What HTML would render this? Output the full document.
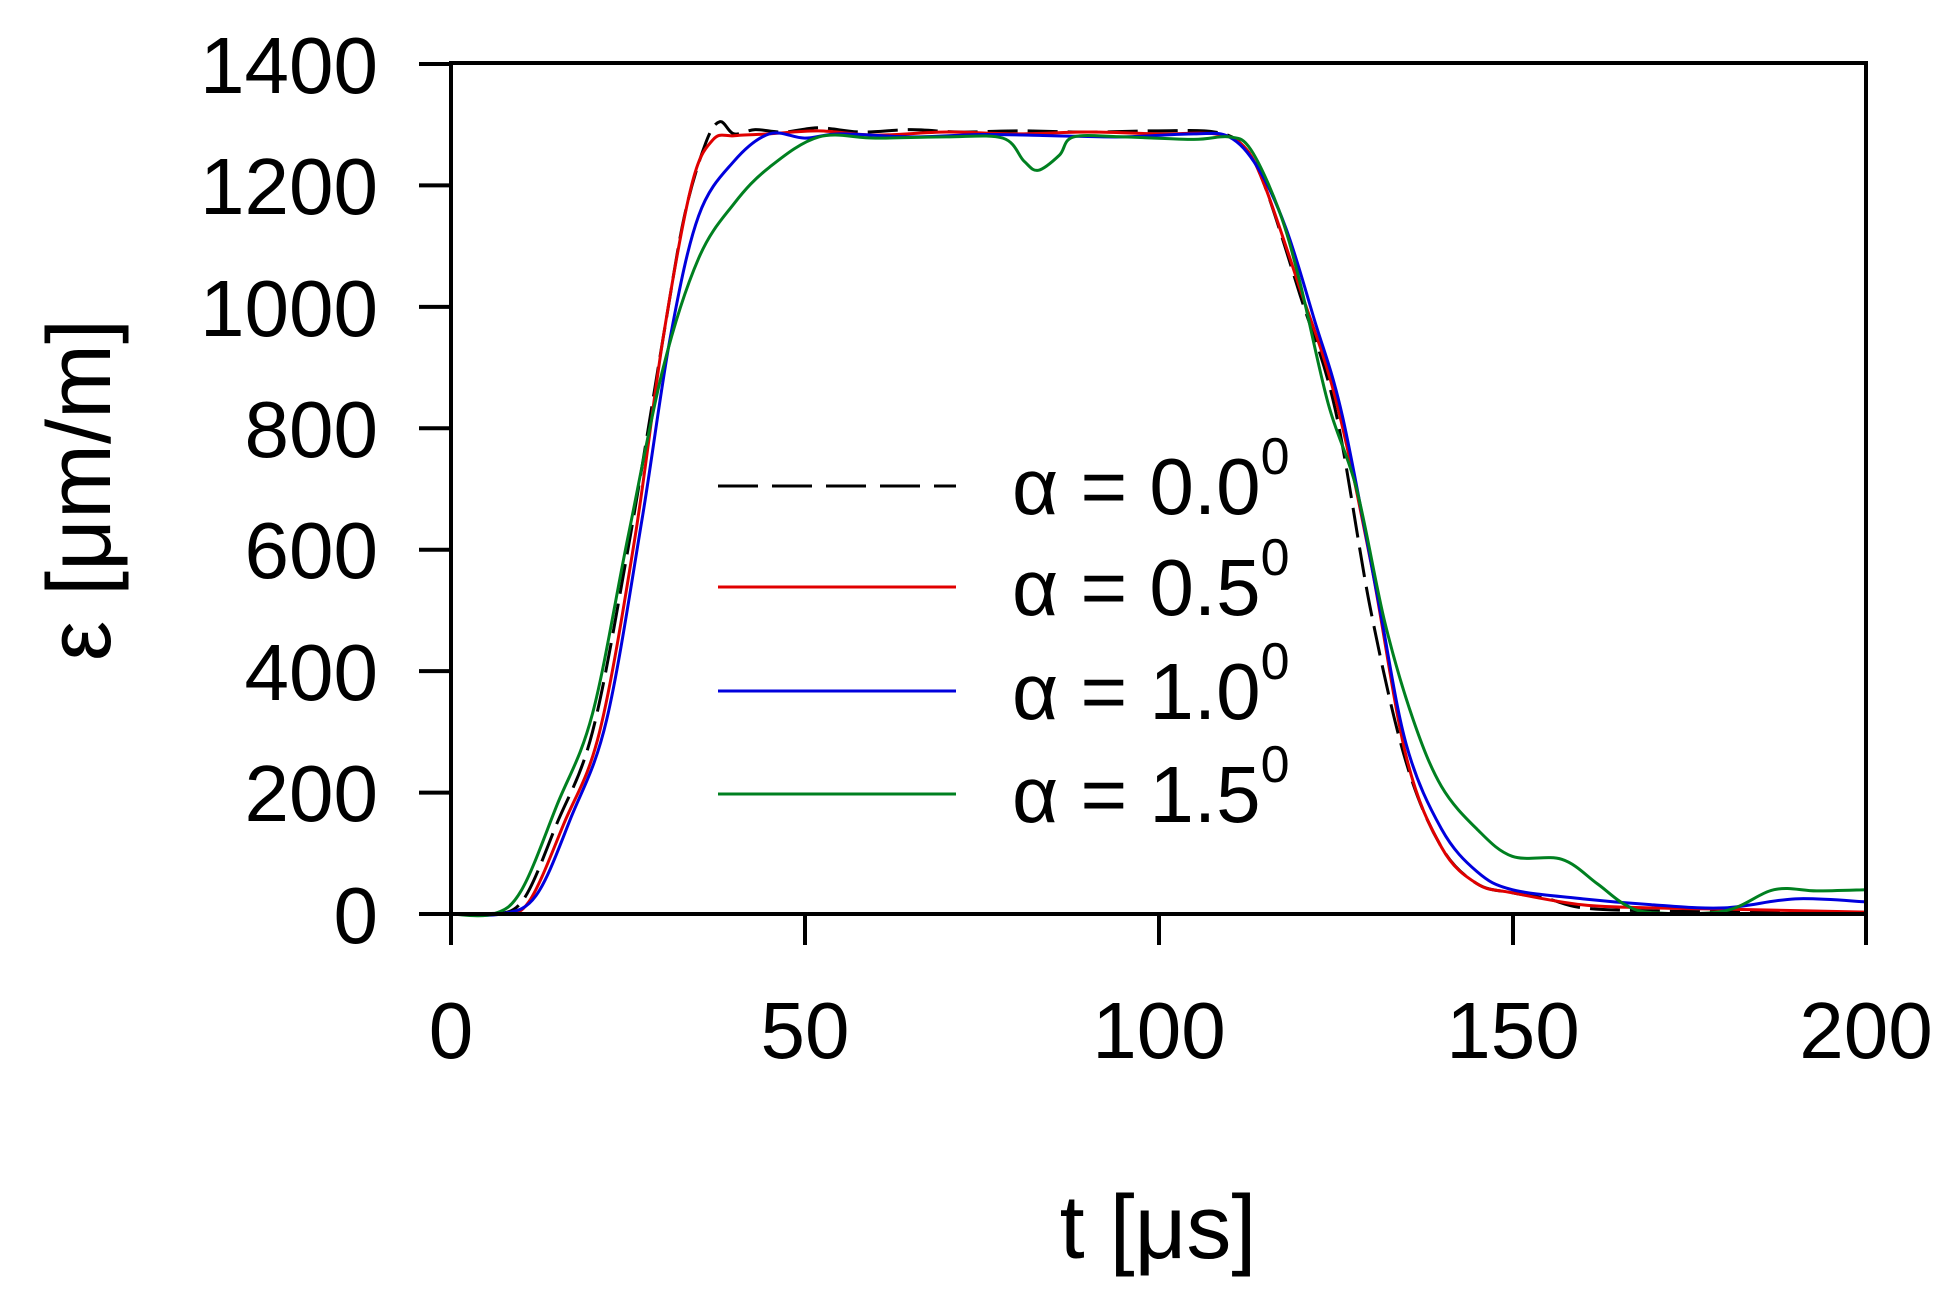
<!DOCTYPE html>
<html><head><meta charset="utf-8"><style>
html,body{margin:0;padding:0;background:#fff;}
svg{display:block;}
text{font-family:"Liberation Sans",Arial,sans-serif;fill:#000;}
</style></head><body>
<svg id="s" width="1957" height="1299" viewBox="0 0 1957 1299" xmlns="http://www.w3.org/2000/svg">
<rect width="1957" height="1299" fill="#fff"/>
<g id="curves" fill="none" stroke-width="3" stroke-linejoin="round"></g>
<g stroke="#000" stroke-width="4" fill="none">
<rect x="451" y="63" width="1415" height="851"/>
<line x1="419" y1="914" x2="451" y2="914"/><line x1="419" y1="792.6" x2="451" y2="792.6"/>
<line x1="419" y1="671.1" x2="451" y2="671.1"/><line x1="419" y1="549.7" x2="451" y2="549.7"/>
<line x1="419" y1="428.3" x2="451" y2="428.3"/><line x1="419" y1="306.9" x2="451" y2="306.9"/>
<line x1="419" y1="185.4" x2="451" y2="185.4"/><line x1="419" y1="64" x2="451" y2="64"/>
<line x1="451" y1="914" x2="451" y2="945"/><line x1="805" y1="914" x2="805" y2="945"/>
<line x1="1159" y1="914" x2="1159" y2="945"/><line x1="1513" y1="914" x2="1513" y2="945"/>
<line x1="1866" y1="914" x2="1866" y2="945"/>
</g>
<g font-size="80" text-anchor="end">
<text x="378" y="943">0</text><text x="378" y="821">200</text><text x="378" y="700">400</text>
<text x="378" y="578">600</text><text x="378" y="457">800</text><text x="378" y="336">1000</text>
<text x="378" y="214">1200</text><text x="378" y="93">1400</text>
</g>
<g font-size="80" text-anchor="middle">
<text x="451" y="1058">0</text><text x="805" y="1058">50</text><text x="1159" y="1058">100</text>
<text x="1513" y="1058">150</text><text x="1866" y="1058">200</text>
</g>
<text x="1158" y="1258" font-size="90" text-anchor="middle">t [μs]</text>
<text transform="translate(110,490) rotate(-90)" font-size="90" text-anchor="middle">ε [μm/m]</text>
<g stroke-width="3">
<line x1="718" y1="486" x2="956" y2="486" stroke="#000" stroke-dasharray="40,14"/>
<line x1="718" y1="587" x2="956" y2="587" stroke="#e00000"/>
<line x1="718" y1="691" x2="956" y2="691" stroke="#0000dd"/>
<line x1="718" y1="794" x2="956" y2="794" stroke="#008020"/>
</g>
<g font-size="80">
<text x="1012" y="514">α = 0.0<tspan font-size="52" dy="-40">0</tspan></text>
<text x="1012" y="615">α = 0.5<tspan font-size="52" dy="-40">0</tspan></text>
<text x="1012" y="719">α = 1.0<tspan font-size="52" dy="-40">0</tspan></text>
<text x="1012" y="822">α = 1.5<tspan font-size="52" dy="-40">0</tspan></text>
</g>
</svg>
<script>
var X=function(t){return 451+t*7.075},Y=function(v){return 914-v*0.6071};
function path(d){var p=d.map(function(a){return [X(a[0]),Y(a[1])]});var s="M"+p[0][0]+","+p[0][1];
for(var i=0;i<p.length-1;i++){var p0=p[i-1]||p[i],p1=p[i],p2=p[i+1],p3=p[i+2]||p2;
s+=" C"+(p1[0]+(p2[0]-p0[0])/6)+","+(p1[1]+(p2[1]-p0[1])/6)+" "+(p2[0]-(p3[0]-p1[0])/6)+","+(p2[1]-(p3[1]-p1[1])/6)+" "+p2[0]+","+p2[1];}return s;}
var S={
"#000":[[0,0],[5,0],[10,20],[15,150],[20,300],[25,600],[30,950],[33,1150],[36,1270],[38,1305],[40,1285],[43,1292],[47,1288],[52,1295],[58,1288],[65,1292],[72,1288],[80,1290],[90,1288],[100,1290],[108,1288],[112,1265],[115,1200],[120,1020],[125,830],[130,500],[135,250],[140,110],[145,50],[150,35],[155,25],[160,10],[170,5],[185,3],[200,0]],
"#e00000":[[0,0],[7,0],[11,20],[16,150],[21,300],[26,620],[30,950],[34,1200],[37,1275],[40,1282],[45,1285],[52,1290],[60,1283],[70,1288],[80,1285],[90,1288],[100,1285],[108,1285],[112,1265],[115,1200],[120,1030],[125,850],[130,580],[135,260],[140,110],[145,50],[150,35],[160,15],[170,10],[180,8],[200,3]],
"#0000dd":[[0,0],[7,0],[12,30],[17,160],[22,320],[27,650],[31,950],[35,1150],[40,1240],[45,1285],[50,1278],[55,1285],[65,1280],[75,1284],[85,1282],[95,1280],[105,1285],[110,1280],[114,1230],[118,1130],[122,980],[126,820],[131,520],[135,280],[140,140],[145,70],[150,40],[160,25],[170,15],[180,10],[190,25],[200,20]],
"#008020":[[0,0],[6,0],[10,40],[15,180],[20,330],[25,620],[30,900],[35,1080],[40,1170],[45,1230],[52,1280],[60,1278],[70,1280],[78,1278],[81,1240],[83,1225],[86,1250],[88,1280],[95,1280],[105,1276],[110,1280],[113,1260],[117,1160],[120,1040],[124,840],[128,700],[132,480],[136,320],[140,210],[145,140],[150,95],[157,90],[162,50],[166,15],[170,2],[180,5],[187,40],[193,38],[200,40]]};
var g=document.getElementById("curves");
for(var c in S){var e=document.createElementNS("http://www.w3.org/2000/svg","path");e.setAttribute("d",path(S[c]));e.setAttribute("stroke",c);if(c=="#000")e.setAttribute("stroke-dasharray","30,10");g.appendChild(e);}
</script>
</body></html>
